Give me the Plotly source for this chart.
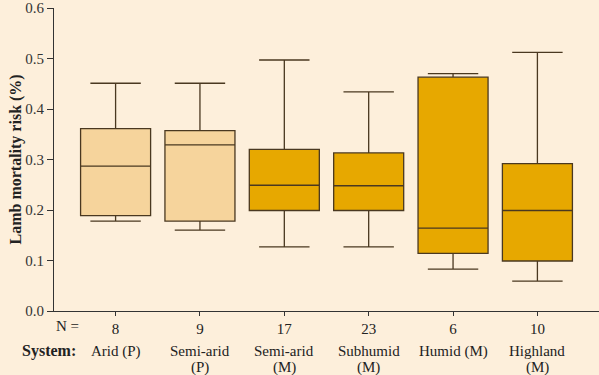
import plotly.graph_objects as go

systems = ["Arid (P)", "Semi-arid<br>(P)", "Semi-arid<br>(M)", "Subhumid<br>(M)", "Humid (M)", "Highland<br>(M)"]
n_values = ["8", "9", "17", "23", "6", "10"]
lower_whisker = [0.178, 0.160, 0.127, 0.127, 0.083, 0.059]
q1_values = [0.189, 0.178, 0.199, 0.199, 0.114, 0.099]
median_values = [0.287, 0.329, 0.249, 0.248, 0.164, 0.199]
q3_values = [0.361, 0.357, 0.320, 0.313, 0.463, 0.292]
upper_whisker = [0.451, 0.451, 0.497, 0.434, 0.470, 0.512]
fill_colors = ["#F6D49C", "#F6D49C", "#E7A800", "#E7A800", "#E7A800", "#E7A800"]

BG = "#FDEFDB"
LINE = "#4A3820"
SERIF = "Liberation Serif"

fig = go.Figure()
for i in range(len(systems)):
    fig.add_trace(go.Box(
        x=[i], q1=[q1_values[i]], median=[median_values[i]], q3=[q3_values[i]],
        lowerfence=[lower_whisker[i]], upperfence=[upper_whisker[i]],
        fillcolor=fill_colors[i], line=dict(color=LINE, width=1.3),
        width=0.83, whiskerwidth=0.72, boxpoints=False, showlegend=False,
        hoverinfo="skip",
    ))

fig.update_layout(
    width=599, height=375,
    margin=dict(l=54, r=0, t=8, b=64, autoexpand=False),
    paper_bgcolor=BG, plot_bgcolor=BG,
    font=dict(family=SERIF, size=15, color="#222222"),
    xaxis=dict(
        range=[-0.73, 5.73], tickmode="array", tickvals=list(range(6)), ticktext=n_values,
        showline=True, linecolor="#333333", linewidth=1.2, ticks="outside", ticklen=4,
        tickcolor="#333333", showgrid=False, zeroline=False, fixedrange=True,
        tickfont=dict(family=SERIF, size=15), automargin=False,
    ),
    yaxis=dict(
        range=[0, 0.6], tickmode="array", tickvals=[0, 0.1, 0.2, 0.3, 0.4, 0.5, 0.6],
        tickformat=".1f", showline=True, linecolor="#333333", linewidth=1.2,
        ticks="outside", ticklen=6, tickcolor="#333333", showgrid=False, zeroline=False,
        tickfont=dict(family=SERIF, size=15, color="#333333"), automargin=False,
        fixedrange=True,
    ),
)

annotations = [
    dict(text="<b>Lamb mortality risk (%)</b>", xref="paper", yref="paper",
         x=(15 - 54) / 545, y=0.5, xanchor="center", yanchor="middle", textangle=-90,
         showarrow=False, font=dict(family=SERIF, size=16)),
    dict(text="N =", xref="paper", yref="paper", x=(67 - 54) / 545, y=0, yshift=-15,
         xanchor="center", yanchor="middle", showarrow=False, font=dict(family=SERIF, size=15)),
    dict(text="<b>System:</b>", xref="paper", yref="paper", x=(49 - 54) / 545, y=0, yshift=-40,
         xanchor="center", yanchor="middle", showarrow=False, font=dict(family=SERIF, size=16)),
]
for i, label in enumerate(systems):
    lines = label.split("<br>")
    for j, line in enumerate(lines):
        annotations.append(dict(
            text=line, xref="x", yref="paper", x=i, y=0, yshift=-40 - 16 * j,
            xanchor="center", yanchor="middle", showarrow=False,
            font=dict(family=SERIF, size=15),
        ))
fig.update_layout(annotations=annotations)

fig.write_html(
    "out.html",
    config={"displayModeBar": False},
    post_script="document.body.style.margin='0';document.body.style.background='" + BG + "';",
)
